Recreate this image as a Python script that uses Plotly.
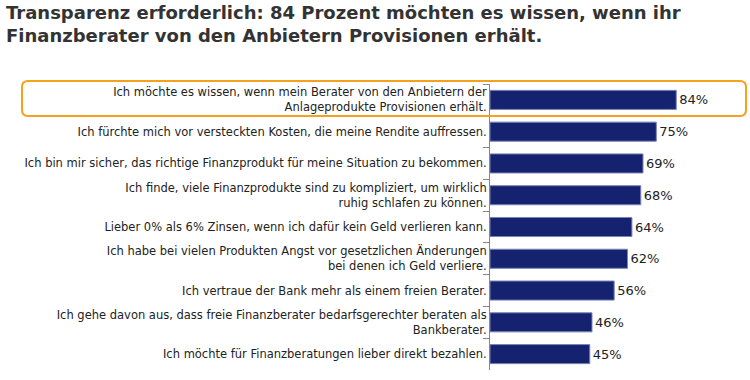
import plotly.graph_objects as go

title_text = ("Transparenz erforderlich: 84 Prozent möchten es wissen, wenn ihr<br>"
              "Finanzberater von den Anbietern Provisionen erhält.")

categories = [
    "Ich möchte es wissen, wenn mein Berater von den Anbietern der<br>Anlageprodukte Provisionen erhält.",
    "Ich fürchte mich vor versteckten Kosten, die meine Rendite auffressen.",
    "Ich bin mir sicher, das richtige Finanzprodukt für meine Situation zu bekommen.",
    "Ich finde, viele Finanzprodukte sind zu kompliziert, um wirklich<br>ruhig schlafen zu können.",
    "Lieber 0% als 6% Zinsen, wenn ich dafür kein Geld verlieren kann.",
    "Ich habe bei vielen Produkten Angst vor gesetzlichen Änderungen<br>bei denen ich Geld verliere.",
    "Ich vertraue der Bank mehr als einem freien Berater.",
    "Ich gehe davon aus, dass freie Finanzberater bedarfsgerechter beraten als<br>Bankberater.",
    "Ich möchte für Finanzberatungen lieber direkt bezahlen.",
]
values = [84, 75, 69, 68, 64, 62, 56, 46, 45]
value_labels = [f"{v}%" for v in values]

W, H = 750, 380
ML, MR, MT, MB = 490, 5, 84, 10
PW, PH = W - ML - MR, H - MT - MB

fig = go.Figure()
fig.add_trace(go.Bar(
    x=values, y=categories, orientation="h",
    marker=dict(color="#14226f", line=dict(color="#7a84b4", width=1)),
    text=value_labels, textposition="outside",
    textfont=dict(family="DejaVu Sans", size=13, color="#222222"),
    cliponaxis=False, hoverinfo="skip",
))

# pixel -> paper conversion helpers for decorations
def px(xp):
    return (xp - ML) / PW
def py(yp):
    return 1 - (yp - MT) / PH

# highlight box around the first statement
x0, x1, y0, y1, r = 22, 746, 81, 116, 6
path = (f"M {px(x0+r)},{py(y0)} L {px(x1-r)},{py(y0)} Q {px(x1)},{py(y0)} {px(x1)},{py(y0+r)} "
        f"L {px(x1)},{py(y1-r)} Q {px(x1)},{py(y1)} {px(x1-r)},{py(y1)} "
        f"L {px(x0+r)},{py(y1)} Q {px(x0)},{py(y1)} {px(x0)},{py(y1-r)} "
        f"L {px(x0)},{py(y0+r)} Q {px(x0)},{py(y0)} {px(x0+r)},{py(y0)} Z")
fig.add_shape(type="path", path=path, xref="paper", yref="paper",
              line=dict(color="#f5a11c", width=2), layer="above")

fig.add_annotation(text=title_text, xref="paper", yref="paper",
                   x=px(4), y=py(0), xanchor="left", yanchor="top", align="left",
                   showarrow=False,
                   font=dict(family="DejaVu Sans", size=18, color="#333333", weight="bold"))

fig.update_layout(
    width=W, height=H,
    margin=dict(l=ML, r=MR, t=MT, b=MB, autoexpand=False),
    paper_bgcolor="white", plot_bgcolor="white",
    showlegend=False, bargap=0.4,
    xaxis=dict(range=[0, 115], visible=False, showgrid=False, zeroline=False,
               fixedrange=True, automargin=False),
    yaxis=dict(autorange="reversed", showgrid=False, zeroline=False, automargin=False,
               showline=True, linecolor="#888888", linewidth=1,
               ticks="outside", ticklen=6, tickcolor="#888888", tickson="boundaries",
               tickfont=dict(family="DejaVu Sans", size=11.5, color="#222222")),
)

fig.write_html("out.html", config={"displayModeBar": False},
               post_script="document.body.style.margin='0';")
